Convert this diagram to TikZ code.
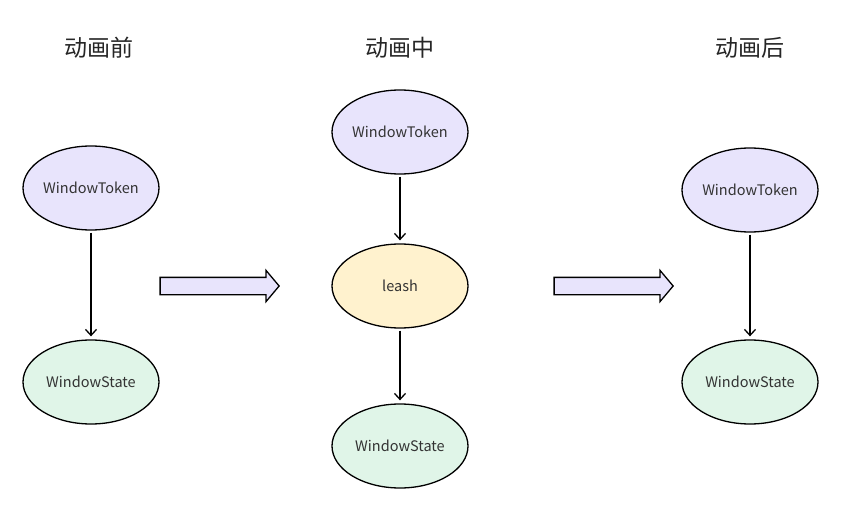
\documentclass[tikz,border=0pt]{standalone}
\usepackage{fontspec}
\setmainfont{Noto Sans CJK SC}
\usetikzlibrary{arrows.meta,shapes.geometric,shapes.arrows}
\definecolor{tokenfill}{RGB}{232,228,252}
\definecolor{leashfill}{RGB}{255,242,206}
\definecolor{statefill}{RGB}{224,245,232}
\definecolor{inktext}{RGB}{51,51,51}
\begin{document}
\begin{tikzpicture}[x=1pt,y=-1pt,
  blob/.style={ellipse,draw=black,line width=1.3pt,minimum width=136pt,minimum height=84pt,
    inner sep=0pt,font=\fontsize{14.5}{16}\selectfont,text=inktext},
  token/.style={blob,fill=tokenfill},
  leashnode/.style={blob,fill=leashfill},
  statenode/.style={blob,fill=statefill},
  heading/.style={font=\fontsize{23}{26}\selectfont,text=black!85},
  link/.style={-{Straight Barb[length=6pt,width=11pt,line width=1.3pt]},line width=1.3pt,
    shorten <=2pt,shorten >=3pt},
  bigarrow/.style={single arrow,draw=black,fill=tokenfill,line width=1.3pt,
    minimum height=119pt,inner xsep=0pt,inner ysep=8pt,single arrow head extend=7pt,
    single arrow tip angle=100}]
\useasboundingbox (0,0) rectangle (852,524);
\fill[white] (0,0) rectangle (852,524);

% column headings
\node[heading] (h1) at (99,48) {动画前};
\node[heading] (h2) at (400,48) {动画中};
\node[heading] (h3) at (750,48) {动画后};

% before
\node[token] (t1) at (91,188) {WindowToken};
\node[statenode] (s1) at (91,382) {WindowState};
\draw[link] (t1) -- (s1);

% during
\node[token] (t2) at (400,132) {WindowToken};
\node[leashnode] (l2) at (400,286) {leash};
\node[statenode] (s2) at (400,446) {WindowState};
\draw[link] (t2) -- (l2);
\draw[link] (l2) -- (s2);

% after
\node[token] (t3) at (750,190) {WindowToken};
\node[statenode] (s3) at (750,382) {WindowState};
\draw[link] (t3) -- (s3);

% transitions
\node[bigarrow] (a1) at (216,286) {};
\node[bigarrow] (a2) at (610,286) {};
\end{tikzpicture}
\end{document}
